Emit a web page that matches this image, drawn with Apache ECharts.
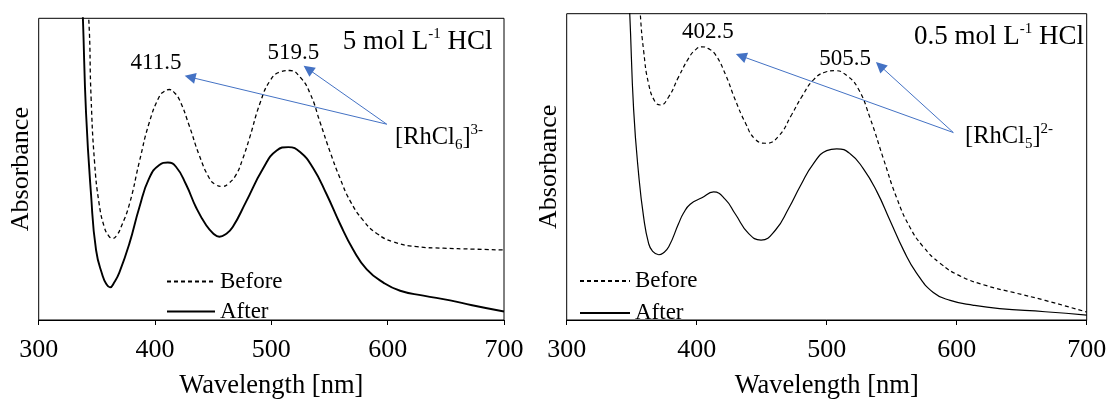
<!DOCTYPE html>
<html>
<head>
<meta charset="utf-8">
<script src="https://cdn.jsdelivr.net/npm/echarts@6/dist/echarts.min.js"></script>
<style>html,body{margin:0;padding:0;background:#fff}#c{width:1110px;height:405px}</style>
</head>
<body>
<div id="c"></div>
<script>
// ---- data (wavelength in nm, absorbance normalised to the visible frame) ----
const xTicks = [300, 400, 500, 600, 700];
const seriesNames = ['Before', 'After'];
const panelTitles = ['5 mol L', '0.5 mol L'];
const peakLabelsLeft = ['411.5', '519.5'];
const peakLabelsRight = ['402.5', '505.5'];

const wlL_before = [338,343,345,348,352,356.4,360,363.6,367,370.8,378,386.5,395,403.7,408,412.3,416,421,429.5,438,446.7,452,458,463,469.6,475,481,490.3,499,507.5,516,524.7,533.3,542,550.5,559,567.7,579,590.6,605,625,648,672.6,700];
const absL_before = [1.25,1.0,0.74,0.524,0.384,0.308,0.28,0.27,0.28,0.308,0.384,0.524,0.654,0.741,0.758,0.764,0.756,0.73,0.643,0.546,0.47,0.449,0.443,0.452,0.481,0.53,0.6,0.719,0.794,0.822,0.827,0.805,0.751,0.654,0.557,0.47,0.395,0.33,0.287,0.259,0.243,0.238,0.235,0.232];

const wlL_after = [335,338,340.7,345,349.3,355,358,361.3,365,369.3,378,386.5,395,403.7,411,418,426.7,435.3,444,450,455.3,461,466.8,478,493,504.6,514.6,524.7,536,547.6,559,570.5,582,596.3,610.7,630.7,653.7,672.6,700];
const absL_after = [1.3,1.0,0.686,0.416,0.232,0.146,0.12,0.108,0.125,0.157,0.254,0.373,0.47,0.514,0.522,0.508,0.449,0.373,0.314,0.287,0.276,0.285,0.308,0.39,0.503,0.562,0.573,0.557,0.503,0.416,0.319,0.232,0.168,0.124,0.097,0.081,0.065,0.049,0.028];

const wlR_before = [354,356.6,359.2,363,368,372,378.5,386,394,399,404,409,414.3,422,429.7,437.4,445,453.3,463,473,481,490,498.7,506.4,515.4,524.3,533.3,543.6,553.8,564,574.3,587,602.5,623,643.5,668,700];
const absR_before = [1.2,1.0,0.878,0.771,0.712,0.702,0.729,0.793,0.856,0.882,0.892,0.886,0.867,0.803,0.718,0.644,0.59,0.577,0.6,0.67,0.73,0.785,0.809,0.814,0.798,0.755,0.66,0.527,0.399,0.303,0.239,0.186,0.144,0.112,0.09,0.064,0.026];

const wlR_after = [346,348.5,351.5,355.4,359.2,363,366,370.8,374,378.5,386,390,395,404,413,422,429.7,440,449.5,460.5,470.8,480,489.7,500,507.7,518,528,538.5,548.7,559,569,582,595,613,633,668,700];
const absR_after = [1.2,1.0,0.686,0.473,0.335,0.25,0.225,0.213,0.218,0.239,0.314,0.35,0.378,0.399,0.418,0.394,0.346,0.282,0.261,0.293,0.365,0.44,0.51,0.553,0.559,0.543,0.495,0.42,0.325,0.229,0.154,0.09,0.064,0.048,0.037,0.027,0.016];

// ---- chart ----
const FONT = "'Liberation Serif', 'Times New Roman', serif";
function pairs(x, y) { return x.map((v, i) => [v, y[i]]); }

const chart = echarts.init(document.getElementById('c'), null, {renderer: 'canvas'});

function xAxisCfg(gridIndex) {
  return {
    type: 'value', gridIndex, min: xTicks[0], max: xTicks[xTicks.length - 1], interval: 100,
    name: 'Wavelength [nm]', nameLocation: 'middle', nameGap: 53,
    nameTextStyle: {fontFamily: FONT, fontSize: 26.5, color: '#000'},
    axisLine: {show: true, lineStyle: {color: '#000', width: 1}},
    axisTick: {show: true, inside: false, length: 5, lineStyle: {color: '#000'}},
    axisLabel: {show: true, margin: 17, fontFamily: FONT, fontSize: 26, color: '#000'},
    splitLine: {show: false}
  };
}
function yAxisCfg(gridIndex) {
  return {
    type: 'value', gridIndex, min: 0, max: 1,
    name: 'Absorbance', nameLocation: 'middle', nameGap: 5, nameRotate: 90,
    nameTextStyle: {fontFamily: FONT, fontSize: 26, color: '#000'},
    axisLine: {show: false}, axisTick: {show: false}, axisLabel: {show: false}, splitLine: {show: false}
  };
}
function lineSeries(name, idx, data, width, dashed, markLineData) {
  const s = {
    name, type: 'line', xAxisIndex: idx, yAxisIndex: idx, data,
    symbol: 'none', smooth: 0.5, clip: true, silent: true,
    lineStyle: {color: '#000', width, type: dashed ? [4, 3] : 'solid'},
    itemStyle: {color: '#000'}, z: 3
  };
  if (markLineData) {
    s.markLine = {
      silent: true, animation: false,
      symbol: ['none', 'triangle'], symbolSize: 11,
      label: {show: false},
      itemStyle: {color: '#4472C4'},
      lineStyle: {color: '#4472C4', width: 1, type: 'solid'},
      emphasis: {disabled: true},
      data: markLineData
    };
  }
  return s;
}

const supRich = {
  m: {fontFamily: FONT, fontSize: 27, lineHeight: 30, color: '#000'},
  sup: {fontFamily: FONT, fontSize: 15, lineHeight: 22, verticalAlign: 'top', color: '#000'}
};
const ionRich = {
  m: {fontFamily: FONT, fontSize: 24.5, lineHeight: 30, color: '#000'},
  sup: {fontFamily: FONT, fontSize: 15, lineHeight: 21, verticalAlign: 'top', color: '#000'},
  sub: {fontFamily: FONT, fontSize: 15, lineHeight: 14, verticalAlign: 'bottom', color: '#000'}
};
const peakRich = {m: {fontFamily: FONT, fontSize: 23, lineHeight: 28, color: '#000'}};

function txt(x, y, text, rich, align) {
  return {type: 'text', x, y, silent: true, z: 10,
    style: {text, rich, align: align || 'left', verticalAlign: 'top'}};
}

const legendBase = {
  data: seriesNames, orient: 'vertical', itemHeight: 14, selectedMode: false,
  itemStyle: {opacity: 0},
  textStyle: {fontFamily: FONT, fontSize: 23, color: '#000'}
};

const option = {
  animation: false,
  backgroundColor: '#fff',
  grid: [
    {left: 38.7, top: 18.3, width: 465.3, height: 308.4, show: true, borderColor: '#000', borderWidth: 1, backgroundColor: 'transparent'},
    {left: 566.7, top: 13.7, width: 520, height: 313.3, show: true, borderColor: '#000', borderWidth: 1, backgroundColor: 'transparent'}
  ],
  xAxis: [xAxisCfg(0), xAxisCfg(1)],
  yAxis: [yAxisCfg(0), yAxisCfg(1)],
  legend: [
    Object.assign({}, legendBase, {left: 161, top: 265, itemWidth: 48, itemGap: 7}),
    Object.assign({}, legendBase, {left: 574, top: 264.5, itemWidth: 50, itemGap: 9})
  ],
  series: [
    lineSeries('Before', 0, pairs(wlL_before, absL_before), 1.3, true),
    lineSeries('After', 0, pairs(wlL_after, absL_after), 1.9, false, [
      [{coord: [599.2, 0.649]}, {coord: [430.1, 0.805]}],
      [{coord: [599.2, 0.649]}, {coord: [531.6, 0.832]}]
    ]),
    lineSeries('Before', 1, pairs(wlR_before, absR_before), 1.2, true),
    lineSeries('After', 1, pairs(wlR_after, absR_after), 1.2, false, [
      [{coord: [597.4, 0.612]}, {coord: [434.1, 0.862]}],
      [{coord: [597.4, 0.612]}, {coord: [541, 0.830]}]
    ])
  ],
  graphic: [
    txt(342.7, 26.5, '{m|' + panelTitles[0] + '}{sup|-1}{m| HCl}', supRich),
    txt(914, 22, '{m|' + panelTitles[1] + '}{sup|-1}{m| HCl}', supRich),
    txt(395, 123, '{m|[RhCl}{sub|6}{m|]}{sup|3-}', ionRich),
    txt(965, 122, '{m|[RhCl}{sub|5}{m|]}{sup|2-}', ionRich),
    txt(156, 49, '{m|' + peakLabelsLeft[0] + '}', peakRich, 'center'),
    txt(293.3, 39, '{m|' + peakLabelsLeft[1] + '}', peakRich, 'center'),
    txt(707.8, 18.3, '{m|' + peakLabelsRight[0] + '}', peakRich, 'center'),
    txt(845, 45, '{m|' + peakLabelsRight[1] + '}', peakRich, 'center')
  ]
};
chart.setOption(option);
</script>
</body>
</html>
